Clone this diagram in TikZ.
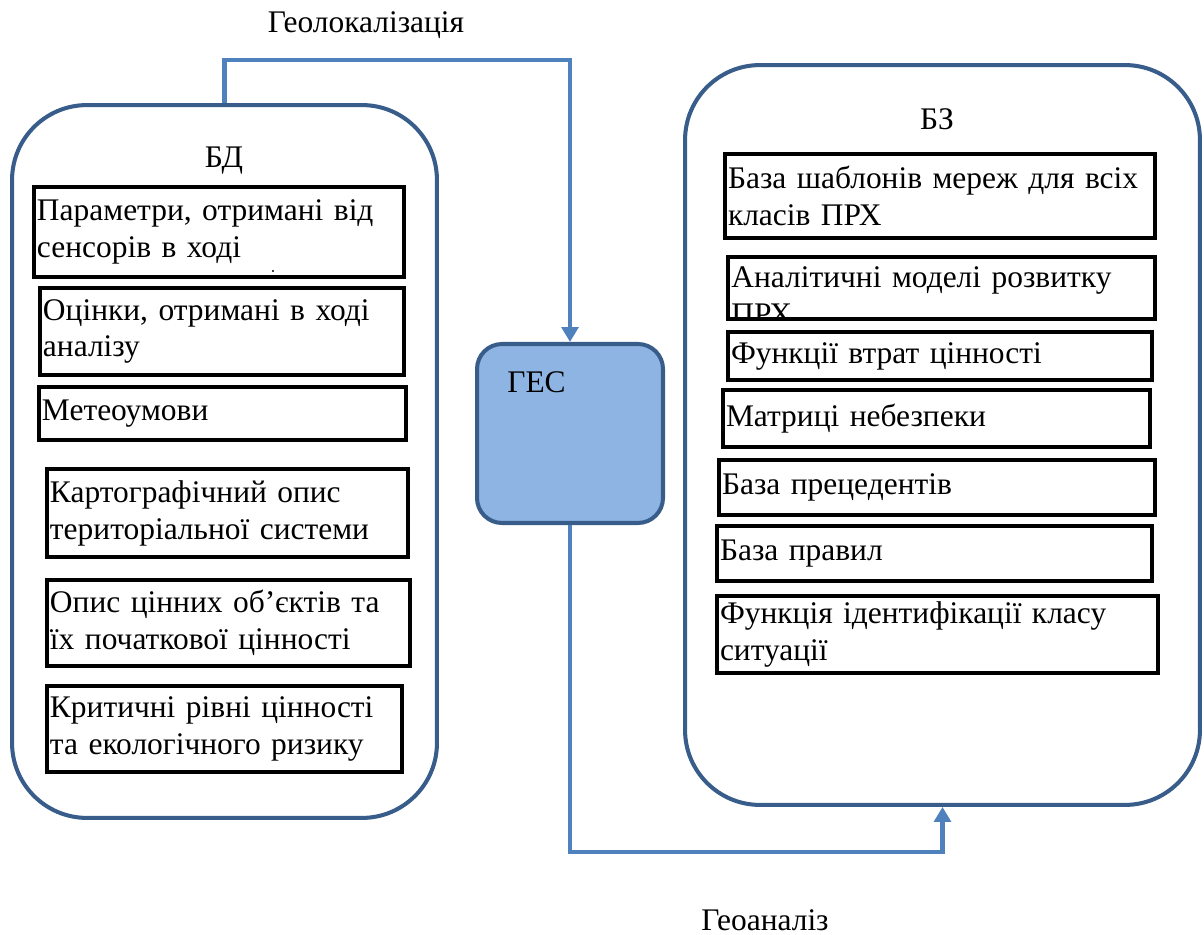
\documentclass[tikz,border=0pt]{standalone}
\usepackage{fontspec}
\setmainfont{Liberation Serif}
\usetikzlibrary{arrows.meta}

\definecolor{frameblue}{HTML}{385D8A}
\definecolor{flowblue}{HTML}{4F81BD}
\definecolor{gesfill}{HTML}{8EB4E3}

\newcommand{\txtsize}{\fontsize{17.9}{21}\selectfont}

\tikzset{
	store/.style={draw=frameblue, line width=2.3pt, rounded corners=1.5cm},
	gesbox/.style={draw=frameblue, fill=gesfill, line width=2.3pt, rounded corners=0.5cm},
	cell/.style={draw=black, line width=1.8pt, align=left, inner xsep=1.7pt, inner ysep=0pt},
	label/.style={anchor=base, inner sep=0pt},
	flow/.style={draw=flowblue, line width=2.3pt, -{Triangle[width=9.5pt,length=8.5pt]}}
}

% box from (x1,y1) to (x2,y2) in pixel units, text left aligned
\newcommand{\cell}[6]{%
	\pgfmathsetmacro\cellw{(#4-#2)*0.02}%
	\pgfmathsetmacro\cellh{(#5-#3)*0.02}%
	\pgfmathsetmacro\cellt{(#4-#2-6)*0.02}%
	\node[cell, minimum width=\cellw cm, minimum height=\cellh cm, text width=\cellt cm] (#1) at ({(#2+#4)/2},{(#3+#5)/2}) {#6};}

\begin{document}
\begin{tikzpicture}[x=0.02cm, y=-0.02cm, font=\txtsize]
	%%%%% START %%%%%
	\useasboundingbox (0,0) rectangle (1204,935);
	
	% the two stores and the GES block
	\node[store, minimum width=8.5cm, minimum height=14.26cm] (bd) at (224.5,461.5) {};
	\node[store, minimum width=10.3cm, minimum height=14.8cm] (bz) at (942.5,435) {};
	\node[gesbox, minimum width=3.72cm, minimum height=3.58cm] (ges) at (570,433.5) {};
	
	\node[label] (bdtitle) at (224,168) {БД};
	\node[label] (bztitle) at (937,130) {БЗ};
	\node[label, anchor=base west] (gestitle) at (507,393) {ГЕС};
	
	% БД contents
	\cell{d1}{34}{187}{404}{277}{Параметри, отримані від\\сенсорів в ході}
	\fill (273,271) circle[radius=1.2];
	\cell{d2}{40}{288}{404}{375}{Оцінки, отримані в ході\\аналізу}
	\cell{d3}{39}{387}{406}{440}{Метеоумови}
	\cell{d4}{47}{469}{408}{557}{Картографічний опис\\територіальної системи}
	\cell{d5}{47}{580}{410}{666}{Опис цінних об’єктів та\\їх початкової цінності}
	\cell{d6}{47}{686}{402}{772}{Критичні рівні цінності\\та екологічного ризику}
	
	% БЗ contents
	\cell{z1}{725}{154}{1155}{238}{База шаблонів мереж для всіх\\класів ПРХ}
	\cell{z2}{728}{257}{1155}{319}{}
	\begin{scope}
		\clip (z2.north west) rectangle (z2.south east);
		\node[align=left, text width=8cm, inner sep=0pt, anchor=base west] (z2txt) at (731,288) {Аналітичні моделі розвитку\\ПРХ};
	\end{scope}
	\cell{z3}{728}{332}{1152}{380}{Функції втрат цінності}
	\cell{z4}{723}{390}{1150}{447}{Матриці небезпеки}
	\cell{z5}{719}{460}{1155}{515}{База прецедентів}
	\cell{z6}{717}{526}{1152}{581}{База правил}
	\cell{z7}{717}{596}{1158}{673}{Функція ідентифікації класу\\ситуації}
	
	% flows
	\coordinate (geoltop) at (400,60);
	\coordinate (geoabot) at (750,852);
	\draw[flow] (bd.north) |- (geoltop) -| (ges.north);
	\draw[flow] (ges.south) |- (geoabot) -| (bz.south);
	
	\node[label] (geoloc) at (366,33) {Геолокалізація};
	\node[label] (geoan) at (765,930) {Геоаналіз};
	
	%%%%% END %%%%%
\end{tikzpicture}
\end{document}
